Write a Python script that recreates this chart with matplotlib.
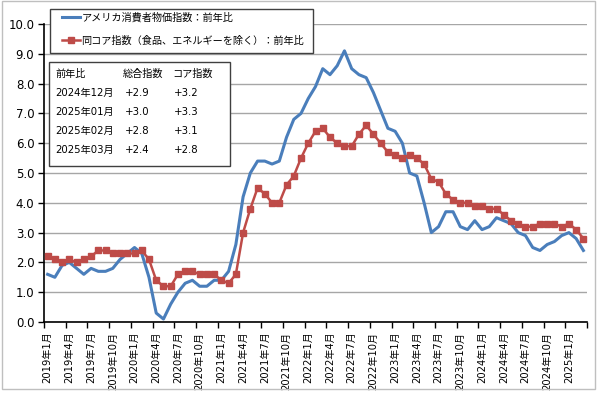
import matplotlib
matplotlib.use("Agg")
import matplotlib.pyplot as plt
from matplotlib.patches import Rectangle

plt.rcParams['font.family'] = ['DejaVu Sans', 'Noto Sans CJK JP']

# US CPI, year-on-year %, 2019/01 - 2025/03
headline = [1.6, 1.5, 1.9, 2.0, 1.8, 1.6, 1.8, 1.7, 1.7, 1.8, 2.1, 2.3,
            2.5, 2.3, 1.5, 0.3, 0.1, 0.6, 1.0, 1.3, 1.4, 1.2, 1.2, 1.4,
            1.4, 1.7, 2.6, 4.2, 5.0, 5.4, 5.4, 5.3, 5.4, 6.2, 6.8, 7.0,
            7.5, 7.9, 8.5, 8.3, 8.6, 9.1, 8.5, 8.3, 8.2, 7.7, 7.1, 6.5,
            6.4, 6.0, 5.0, 4.9, 4.0, 3.0, 3.2, 3.7, 3.7, 3.2, 3.1, 3.4,
            3.1, 3.2, 3.5, 3.4, 3.3, 3.0, 2.9, 2.5, 2.4, 2.6, 2.7, 2.9,
            3.0, 2.8, 2.4]
core = [2.2, 2.1, 2.0, 2.1, 2.0, 2.1, 2.2, 2.4, 2.4, 2.3, 2.3, 2.3,
        2.3, 2.4, 2.1, 1.4, 1.2, 1.2, 1.6, 1.7, 1.7, 1.6, 1.6, 1.6,
        1.4, 1.3, 1.6, 3.0, 3.8, 4.5, 4.3, 4.0, 4.0, 4.6, 4.9, 5.5,
        6.0, 6.4, 6.5, 6.2, 6.0, 5.9, 5.9, 6.3, 6.6, 6.3, 6.0, 5.7,
        5.6, 5.5, 5.6, 5.5, 5.3, 4.8, 4.7, 4.3, 4.1, 4.0, 4.0, 3.9,
        3.9, 3.8, 3.8, 3.6, 3.4, 3.3, 3.2, 3.2, 3.3, 3.3, 3.3, 3.2,
        3.3, 3.1, 2.8]

months = [f"{2019 + i // 12}年{i % 12 + 1}月" for i in range(len(headline))]

label_headline = "アメリカ消費者物価指数：前年比"
label_core = "同コア指数（食品、エネルギーを除く）：前年比"

table_header = ["前年比", "総合指数", "コア指数"]
table_months = ["2024年12月", "2025年01月", "2025年02月", "2025年03月"]
table_headline = ["+2.9", "+3.0", "+2.8", "+2.4"]
table_core = ["+3.2", "+3.3", "+3.1", "+2.8"]

blue = "#4A7EBB"
red = "#BE4B48"

W, H = 600, 393
fig = plt.figure(figsize=(W / 100, H / 100), dpi=100)
ax = fig.add_axes([44 / W, 1 - 322 / H, 543 / W, 298 / H])

x = list(range(len(headline)))
l1, = ax.plot(x, headline, color=blue, lw=2.2, zorder=3)
l2, = ax.plot(x, core, color=red, lw=1.8, marker="s", ms=5, zorder=4)

ax.set_xlim(-0.5, len(x) - 0.5)
ax.set_ylim(0, 10)
ax.set_yticks([i for i in range(11)])
ax.set_yticklabels([f"{i:.1f}" for i in range(11)], fontsize=8.5)
ax.yaxis.grid(True, color="#A6A6A6", lw=1)
ax.set_axisbelow(True)

ax.set_xticks([k - 0.5 for k in range(0, len(x) + 1, 3)])
ax.set_xticklabels([])
ax.set_xticks(list(range(0, len(x), 3)), minor=True)
ax.set_xticklabels(months[::3], minor=True, rotation=90, fontsize=7.2,
                   va="top", ha="center")
ax.tick_params(axis="x", which="major", direction="out", length=4, width=1)
ax.tick_params(axis="x", which="minor", length=0, pad=7)
ax.tick_params(axis="y", direction="out", length=4, width=1, pad=3)

for s in ["top", "right"]:
    ax.spines[s].set_visible(False)
for s in ["left", "bottom"]:
    ax.spines[s].set_color("black")
    ax.spines[s].set_linewidth(1.2)

# legend box
lbox = Rectangle((50 / W, 1 - 53 / H), 263 / W, 44 / H, transform=fig.transFigure,
                 facecolor="white", edgecolor="#404040", lw=1.0, zorder=9)
fig.add_artist(lbox)
leg = fig.legend([l1, l2], [label_headline, label_core], loc="upper left",
                 bbox_to_anchor=(62 / W, 1 - 12 / H), fontsize=7.3, frameon=False,
                 handlelength=1.8, handletextpad=0.1, labelspacing=1.3,
                 borderpad=0, borderaxespad=0)
leg.set_zorder(10)

# summary table
box = Rectangle((49 / W, 1 - 166 / H), 181 / W, 104 / H, transform=fig.transFigure,
                facecolor="white", edgecolor="#404040", lw=1.0, zorder=10)
fig.add_artist(box)
rows_y = [74, 93, 112, 131, 150]
cols_x = [55, 123, 172]
for c, t in zip(cols_x, table_header):
    fig.text(c / W, 1 - rows_y[0] / H, t, fontsize=7.3, va="center", zorder=11)
for i in range(4):
    yy = 1 - rows_y[i + 1] / H
    fig.text(cols_x[0] / W, yy, table_months[i], fontsize=7.3, va="center", zorder=11)
    fig.text(125 / W, yy, table_headline[i], fontsize=7.3, va="center", zorder=11)
    fig.text(174 / W, yy, table_core[i], fontsize=7.3, va="center", zorder=11)

border = Rectangle((2 / W, 1 - 389 / H), 593 / W, 388 / H, transform=fig.transFigure,
                   facecolor="none", edgecolor="#BFBFBF", lw=1.0)
fig.add_artist(border)

fig.savefig("out.png", dpi=100)
